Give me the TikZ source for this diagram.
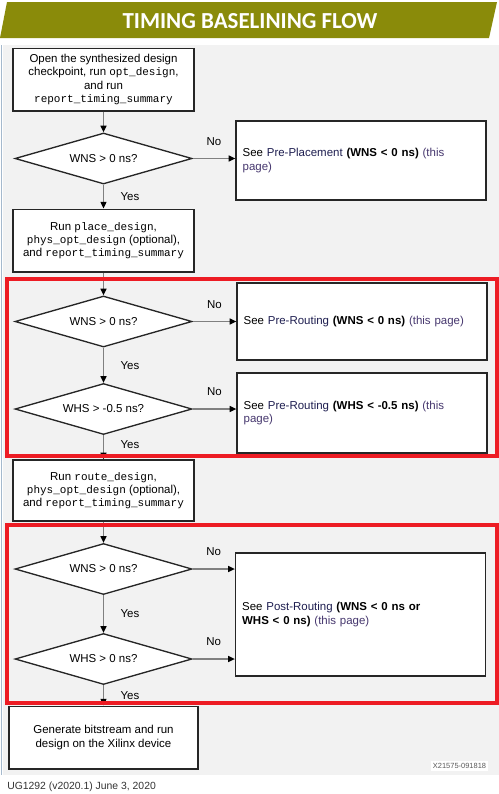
\documentclass[tikz,border=0pt]{standalone}
\usepackage{fontspec}
\setmainfont{Liberation Sans}
\setmonofont{Liberation Mono}
\newfontfamily\titlefont{Carlito}
\usetikzlibrary{arrows.meta, shapes.geometric}
\definecolor{bannergreen}{RGB}{138,139,10}
\definecolor{panelgray}{RGB}{242,242,242}
\definecolor{markred}{RGB}{237,28,36}
\definecolor{linkblue}{RGB}{30,30,80}
\definecolor{pagepurple}{RGB}{70,55,110}
\definecolor{edgeblue}{RGB}{165,185,205}
\newcommand{\code}[1]{{\ttfamily\fontsize{8.25}{10}\selectfont #1}}

\begin{document}
\begin{tikzpicture}[x=0.75pt, y=-0.75pt,
  txt/.style={font=\fontsize{8.6}{10}\selectfont},
  stepbox/.style={txt, draw=black!85, line width=1pt, fill=white, align=center,
    minimum width=135.75pt, minimum height=47pt, inner sep=2pt},
  decision/.style={txt, draw=black!85, line width=1pt, fill=white, shape=diamond,
    aspect=3.47, minimum width=132.75pt, minimum height=38.25pt, inner sep=0pt},
  seebox/.style={txt, draw=black!85, line width=1pt, fill=white, align=left,
    minimum width=187.5pt, text width=177.5pt, inner xsep=5pt},
  flow/.style={draw=black!50, line width=0.9pt, -{Triangle[length=5pt, width=4.5pt, black]}},
  no/.style={txt, above=6pt},
  yes/.style={txt, right, xshift=9pt},
  markbox/.style={draw=markred, line width=3pt}]
\useasboundingbox (0,0) rectangle (499,794);

% background and banner
\fill[panelgray] (3,45) rectangle (499,775);
\draw[edgeblue, line width=1pt] (1.5,45) -- (1.5,775);
\fill[bannergreen] (7,2) -- (497,2) -- (489,38) -- (0,38) -- cycle;
\node[font=\titlefont\bfseries\fontsize{17.2}{20}\selectfont, text=white] (title) at (250,21) {TIMING BASELINING FLOW};

% main column
\node[stepbox] (open) at (103.5,79.5) {Open the synthesized design\\ checkpoint, run \code{opt\_design},\\ and run\\ \code{report\_timing\_summary}};
\node[decision] (wns1) at (103.5,158.5) {WNS > 0 ns?};
\node[stepbox] (place) at (103.5,240.5) {Run \code{place\_design},\\ \code{phys\_opt\_design} (optional),\\ and \code{report\_timing\_summary}};
\node[decision] (wns2) at (103.5,321.5) {WNS > 0 ns?};
\node[decision] (whs2) at (103.5,409) {WHS > -0.5 ns?};
\node[stepbox, minimum height=45.75pt] (route) at (103.5,490.5) {Run \code{route\_design},\\ \code{phys\_opt\_design} (optional),\\ and \code{report\_timing\_summary}};
\node[decision] (wns3) at (103.5,569) {WNS > 0 ns?};
\node[decision] (whs3) at (103.5,659) {WHS > 0 ns?};
\node[stepbox, minimum width=141.75pt] (bits) at (103.5,737.5) {Generate bitstream and run\\ design on the Xilinx device};

% side boxes
\node[seebox, minimum height=59.25pt] (preplace) at (361,160.5) {See \textcolor{linkblue}{Pre-Placement} \textbf{(WNS < 0 ns)} \textcolor{pagepurple}{(this}\\ \textcolor{pagepurple}{page)}};
\node[seebox, minimum height=57.75pt] (prewns) at (362,321.5) {See \textcolor{linkblue}{Pre-Routing} \textbf{(WNS < 0 ns)} \textcolor{pagepurple}{(this page)}};
\node[seebox, minimum height=60pt] (prewhs) at (362,413) {See \textcolor{linkblue}{Pre-Routing} \textbf{(WHS < -0.5 ns)} \textcolor{pagepurple}{(this}\\ \textcolor{pagepurple}{page)}};
\node[seebox, minimum height=92.25pt] (post) at (360.5,614.5) {See \textcolor{linkblue}{Post-Routing} \textbf{(WNS < 0 ns or}\\ \textbf{WHS < 0 ns)} \textcolor{pagepurple}{(this page)}};

% connectors
\draw[flow] (open) -- (wns1);
\draw[flow] (wns1) -- node[yes] {Yes} (place);
\draw[flow] (place) -- (wns2);
\draw[flow] (wns2) -- node[yes] {Yes} (whs2);
\draw[flow] (whs2) -- node[yes, yshift=2pt] {Yes} (route);
\draw[flow] (route) -- (wns3);
\draw[flow] (wns3) -- node[yes] {Yes} (whs3);
\draw[flow] (whs3) -- node[yes] {Yes} (bits);
\draw[flow] (wns1.east) -- node[no] {No} (wns1.east -| preplace.west);
\draw[flow] (wns2.east) -- node[no] {No} (wns2.east -| prewns.west);
\draw[flow] (whs2.east) -- node[no] {No} (whs2.east -| prewhs.west);
\draw[flow] (wns3.east) -- node[no] {No} (wns3.east -| post.west);
\draw[flow] (whs3.east) -- node[no] {No} (whs3.east -| post.west);

% highlight frames
\draw[markbox] (7,279) rectangle (497,456);
\draw[markbox] (7,525) rectangle (497,703);

% figure id and footer
\node[fill=white, text=black!65, font=\fontsize{5.6}{6}\selectfont, inner sep=1.5pt] (figid) at (459.5,766) {X21575-091818};
\node[anchor=west, inner sep=0pt, text=black!80, font=\fontsize{7.8}{9}\selectfont] (foot) at (7,787) {UG1292 (v2020.1) June 3, 2020};
\end{tikzpicture}
\end{document}
